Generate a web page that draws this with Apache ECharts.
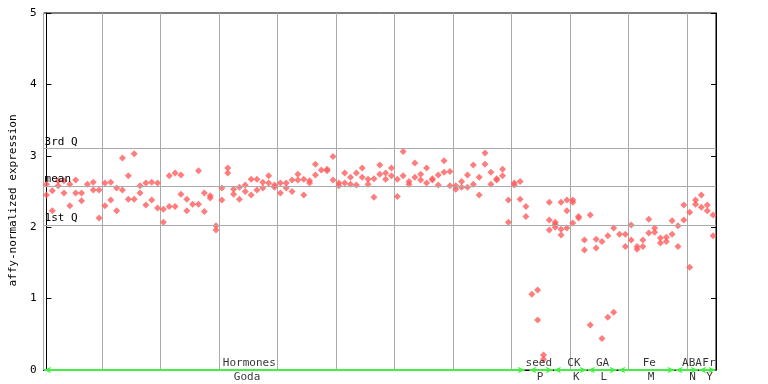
<!DOCTYPE html>
<html>
<head>
<meta charset="utf-8">
<script src="https://cdn.jsdelivr.net/npm/echarts@6/dist/echarts.min.js"></script>
<style>html,body{margin:0;padding:0;background:#fff;}#c{width:768px;height:384px;}</style>
</head>
<body>
<div id="c"></div>
<script>
// replicate values per sample column (null = no further replicate)
var rep1 = [2.60,2.51,2.65,2.65,2.60,2.66,2.48,2.60,2.63,2.52,
            2.62,2.63,2.55,2.97,2.72,3.03,2.58,2.62,2.63,2.62,
            2.25,2.72,2.76,2.73,2.39,2.32,2.79,2.48,2.44,2.02,
            2.55,2.83,2.53,2.56,2.59,2.67,2.67,2.63,2.72,2.59,
            2.62,2.62,2.66,2.74,2.67,2.65,2.88,2.80,2.81,2.99,
            2.62,2.76,2.70,2.76,2.83,2.67,2.68,2.87,2.76,2.83,
            2.67,3.06,2.64,2.90,2.74,2.83,2.68,2.73,2.93,2.78,
            2.58,2.64,2.73,2.87,2.70,3.04,2.77,2.68,2.81,2.38,
            2.62,2.64,2.29,1.06,1.12,0.21,2.35,2.07,2.35,2.38,
            2.38,2.15,1.82,2.17,1.83,1.80,1.88,1.99,1.90,1.90,
            2.03,1.73,1.82,2.11,1.99,1.85,1.86,2.09,2.02,2.31,
            2.21,2.38,2.45,2.31,2.17];
var rep2 = [2.45,2.23,2.58,2.48,2.30,2.48,2.37,null,2.52,2.13,
            2.30,2.38,2.23,2.52,2.39,2.39,2.48,2.31,2.38,2.27,
            2.07,2.29,2.29,2.46,2.23,null,2.32,2.22,2.41,1.96,
            2.38,2.76,2.46,2.39,2.50,2.45,2.52,2.55,2.62,2.56,
            2.48,2.55,2.50,2.66,2.45,2.62,2.73,null,2.79,2.66,
            2.58,2.62,2.60,2.59,2.70,2.60,2.42,2.74,2.67,2.72,
            2.43,2.72,2.60,2.70,2.66,2.62,2.66,2.59,2.77,2.58,
            2.53,2.56,2.56,2.60,2.45,2.88,2.60,2.66,2.72,2.07,
            2.59,2.39,2.15,null,0.70,0.15,2.10,2.00,1.97,2.23,
            2.35,2.13,1.68,0.63,1.71,0.44,0.74,0.81,null,1.73,
            1.82,1.69,1.73,1.92,1.93,1.78,1.80,1.90,1.73,2.10,
            1.44,2.32,2.28,2.23,1.88];
var rep3Index = [86, 87, 88, 89, 90];
var rep3Value = [1.96, 2.04, 1.89, 1.99, 2.06];

// reference lines
var refValues = [3.095, 2.58, 2.03];
var refNames = ['3rd Q', 'mean', '1st Q'];

// experiment groups along the bottom
var groupTop = ['Hormones', 'seed', 'CK', 'GA', 'Fe', 'ABA', 'Fr'];
var groupTopPos = [34.7, 84.2, 90.2, 95.1, 103.1, 110.4, 113.3];
var groupBottom = ['Goda', 'P', 'K', 'L', 'M', 'N', 'Y'];
var groupBottomPos = [34.3, 84.4, 90.6, 95.3, 103.4, 110.5, 113.4];
var groupStart = [-0.4, 82.6, 86.8, 92.6, 97.8, 107.6, 111.6];
var groupEnd = [81.8, 86.6, 92.4, 97.5, 107.4, 111.4, 114.4];

var yTicks = [0, 1, 2, 3, 4, 5];

var cats = rep1.map(function (v, i) { return String(i); });
var pts = [];
rep1.forEach(function (v, i) { if (v !== null) pts.push([i, v]); });
rep2.forEach(function (v, i) { if (v !== null) pts.push([i, v]); });
rep3Index.forEach(function (ix, k) { pts.push([ix, rep3Value[k]]); });

var mono = 'DejaVu Sans Mono';
var chart = echarts.init(document.getElementById('c'), null, {renderer: 'canvas'});

var labelTop = groupTop.map(function (t, k) { return {value: [groupTopPos[k], 0], name: t}; });
var labelBot = groupBottom.map(function (t, k) { return {value: [groupBottomPos[k], 0], name: t}; });
var arrows = groupStart.map(function (s, k) { return [{coord: [s, 0]}, {coord: [groupEnd[k], 0]}]; });

chart.setOption({
  animation: false,
  backgroundColor: '#fff',
  grid: {left: 37, right: 52, top: 13, bottom: 14, show: true, borderColor: '#000', borderWidth: 1, backgroundColor: 'transparent'},
  xAxis: [{
    type: 'category', data: cats, boundaryGap: true,
    axisLine: {show: true, lineStyle: {color: '#000', width: 1}},
    axisTick: {show: false}, axisLabel: {show: false},
    splitLine: {show: true, interval: function (idx) { return idx % 10 === 0; }, lineStyle: {color: '#aaaaaa', width: 1}}
  }, {
    type: 'value', min: -0.5, max: 114.5, show: false
  }],
  yAxis: [{
    type: 'value', min: 0, max: 5, interval: 1,
    name: 'affy-normalized expression', nameLocation: 'middle', nameGap: 24,
    nameTextStyle: {fontFamily: mono, fontSize: 11, color: '#000', padding: [0, 18, 0, 0]},
    axisLine: {show: true, lineStyle: {color: '#000'}},
    axisTick: {show: true, inside: true, length: 5, lineStyle: {color: '#000'}},
    axisLabel: {fontFamily: mono, fontSize: 11, color: '#000', margin: 7,
      formatter: function (v) { return yTicks.indexOf(v) >= 0 ? String(v) : ''; }},
    splitLine: {show: false}
  }, {
    type: 'value', min: 0, max: 5, interval: 1, position: 'right',
    axisLine: {show: true, lineStyle: {color: '#000'}},
    axisTick: {show: true, inside: true, length: 5, lineStyle: {color: '#000'}},
    axisLabel: {show: false}, splitLine: {show: false}
  }],
  series: [{
    type: 'scatter', xAxisIndex: 0, yAxisIndex: 0, data: pts,
    symbol: 'diamond', symbolSize: 7,
    itemStyle: {color: '#ff5c5c'},
    z: 3,
    markLine: {
      silent: true, symbol: 'none', animation: false,
      lineStyle: {color: '#aaaaaa', type: 'solid', width: 1},
      label: {show: true, position: 'insideStartTop', formatter: '{b}', color: '#000', fontFamily: mono, fontSize: 11, distance: [1, 1]},
      data: refValues.map(function (v, k) { return {yAxis: v, name: refNames[k]}; })
    }
  }, {
    type: 'scatter', xAxisIndex: 1, yAxisIndex: 0, clip: false,
    symbolSize: 0, data: labelTop, z: 5,
    label: {show: true, position: 'top', distance: 1, formatter: '{b}', color: '#000', fontFamily: mono, fontSize: 11},
    markLine: {
      silent: true, symbol: ['arrow', 'arrow'], symbolSize: [5, 7], animation: false,
      lineStyle: {color: '#44ee44', type: 'solid', width: 2},
      label: {show: false},
      data: arrows
    }
  }, {
    type: 'scatter', xAxisIndex: 1, yAxisIndex: 0, clip: false,
    symbolSize: 0, data: labelBot, z: 5,
    label: {show: true, position: 'bottom', distance: 2, formatter: '{b}', color: '#000', fontFamily: mono, fontSize: 11}
  }]
});
</script>
</body>
</html>
